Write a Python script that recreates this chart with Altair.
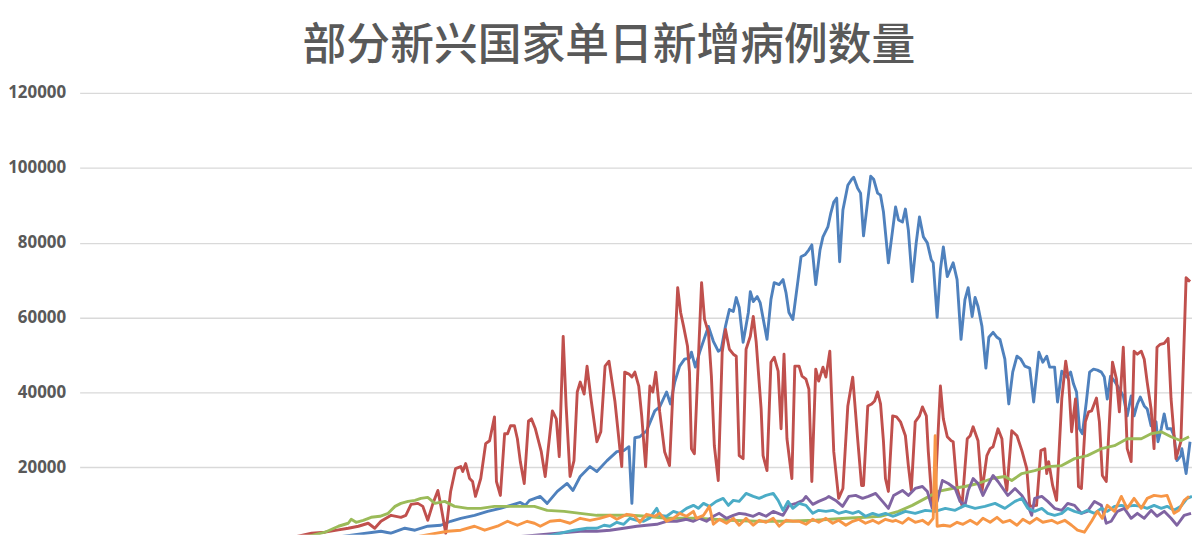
import altair as alt
import pandas as pd

TITLE = "部分新兴国家单日新增病例数量"
Y_TICKS = [20000, 40000, 60000, 80000, 100000, 120000]
SERIES = ["印度", "巴西", "俄罗斯", "阿根廷", "哥伦比亚", "墨西哥"]
COLORS = ["#4F81BD", "#C0504D", "#9BBB59", "#8064A2", "#4BACC6", "#F79646"]

# (day index, new cases)
india = [(60, 200), (80, 1500), (92.1, 2920), (95.2, 2390), (99.4, 3720), (102.5, 3190), (106.4, 4250), (110.4, 4520),
         (113.4, 5580), (116.5, 6370), (120.7, 7170), (124.7, 8230), (128.6, 9030), (131.7, 9830), (134.7, 10620),
         (136.2, 9830), (137.5, 11160), (140.8, 12220), (142.9, 10360), (146.0, 13550), (149.0, 15670), (150.8, 13810),
         (153.0, 17530), (156.0, 20190), (158.1, 18860), (161.2, 21780), (164.2, 24170), (166.3, 24440), (167.9, 25500),
         (168.8, 10360), (169.7, 27890), (171.2, 28150), (173.3, 29750), (175.8, 35060), (177.3, 36120), (179.4, 40110),
         (180.6, 36920), (181.9, 42760), (183.4, 47010), (184.9, 48870), (186.4, 49140), (187.0, 50730), (188.2, 46750),
         (189.5, 50730), (192.2, 57640), (193.7, 53650), (195.2, 51000), (196.1, 51530), (197.4, 57640), (198.6, 62150),
         (199.8, 61620), (200.7, 65340), (201.6, 62680), (202.8, 53390), (204.4, 61350), (205.0, 66930), (205.9, 64280),
         (207.1, 65600), (208.0, 64010), (210.1, 54180), (211.3, 64810), (212.3, 69320), (213.8, 68790), (215.0, 70120),
         (215.9, 66670), (216.8, 61350), (218.0, 59490), (219.6, 70120), (220.5, 76230), (221.7, 76760), (222.9, 78090),
         (223.8, 79410), (225.0, 68790), (226.3, 78090), (227.2, 81540), (228.7, 84200), (229.6, 87910), (230.5, 90840),
         (231.4, 91900), (232.3, 74900), (233.3, 88710), (234.8, 95350), (236.0, 96940), (236.6, 97480), (237.8, 94550),
         (238.7, 93230), (239.6, 81800), (240.9, 91370), (241.8, 97740), (242.7, 96940), (243.9, 93230), (244.8, 92690),
         (245.7, 88180), (247.2, 74630), (248.5, 83400), (249.4, 89510), (250.3, 86050), (251.5, 85520), (252.4, 88980),
         (253.3, 83400), (254.5, 69590), (255.7, 79950), (256.7, 86850), (257.9, 81540), (259.1, 79950), (260.3, 75430),
         (260.9, 74630), (262.1, 60030), (263.1, 72770), (264.0, 78880), (265.2, 70920), (266.1, 72770), (267.0, 74630),
         (268.2, 70120), (269.4, 54180), (270.6, 64810), (271.6, 67990), (272.8, 60290), (273.7, 65340), (274.6, 62950),
         (275.8, 57640), (277.0, 46480), (277.9, 54720), (279.2, 56040), (280.4, 54720), (281.3, 54180), (282.8, 48870),
         (284.0, 36920), (285.2, 45420), (286.5, 49670), (287.7, 48870), (288.9, 47010), (290.4, 46480), (291.6, 37450),
         (293.2, 50730), (294.4, 48070), (295.6, 49670), (296.5, 46750), (298.0, 46750), (298.9, 37450), (300.2, 45680),
         (301.7, 44090), (302.9, 45420), (303.8, 42230), (304.7, 40110), (305.6, 30280), (306.5, 28950), (307.7, 37450),
         (308.7, 45420), (309.9, 46210), (311.1, 45950), (312.3, 45420), (313.2, 44090), (314.1, 38250), (315.1, 44360),
         (316.3, 43030), (317.8, 40900), (319.0, 39040), (320.2, 33730), (321.4, 39040), (322.3, 33730), (323.3, 36920),
         (324.2, 38780), (325.4, 36390), (326.3, 35590), (327.5, 31080), (329.0, 32140), (329.6, 26830), (330.6, 30280),
         (331.5, 34260), (332.4, 30280), (333.6, 30280), (334.5, 28420), (335.4, 21780), (336.6, 23110), (336.9, 24970),
         (338.2, 18330), (339.4, 26830)]

brazil = [(60, 300), (70.9, 2390), (75.0, 2660), (79.1, 3270), (82.1, 3720), (85.2, 4250), (88.2, 5050), (90.2, 3720),
          (92.1, 5580), (95.2, 7170), (98.2, 6640), (99.7, 7170), (101.3, 10090), (103.4, 10360), (104.9, 9560),
          (106.4, 5840), (108.0, 10360), (109.5, 13810), (110.4, 9830), (111.9, 2390), (113.4, 13550), (114.9, 19650),
          (116.5, 20190), (117.1, 18860), (118.0, 20980), (119.2, 17000), (120.1, 16200), (121.0, 12220), (122.6, 17000),
          (124.1, 26300), (125.3, 27090), (126.8, 33470), (127.4, 16200), (128.6, 12480), (129.9, 28950), (130.8, 28950),
          (131.7, 31080), (132.9, 31080), (133.8, 27620), (134.7, 21510), (135.9, 15670), (137.2, 32400), (138.1, 32930),
          (139.3, 30280), (141.1, 24170), (142.3, 17530), (144.5, 35060), (145.7, 32930), (146.6, 22840), (147.8, 54980),
          (148.7, 36390), (149.9, 17530), (151.1, 21780), (152.1, 40110), (153.0, 42760), (154.2, 39570), (155.1, 47010),
          (156.3, 38250), (158.1, 26830), (159.3, 29480), (160.6, 47010), (161.8, 48340), (162.7, 43030), (163.6, 37720),
          (165.7, 20190), (166.6, 45420), (167.9, 44890), (168.8, 44090), (169.7, 45420), (170.9, 41700), (171.8, 33730),
          (173.0, 20190), (174.3, 41700), (175.2, 40110), (176.1, 45420), (177.3, 34790), (178.8, 24170), (180.3, 20450),
          (182.8, 67990), (183.7, 61350), (184.6, 57640), (185.8, 52320), (186.4, 45420), (187.0, 24970), (187.9, 23640),
          (190.1, 69320), (191.0, 59490), (192.2, 56040), (193.1, 44360), (194.0, 25760), (195.2, 16470), (196.4, 50730),
          (197.4, 56840), (198.6, 51530), (199.8, 50200), (200.7, 49670), (201.6, 23110), (202.8, 22310), (203.7, 51530),
          (205.0, 54980), (205.9, 60290), (206.8, 53390), (208.3, 35590), (208.9, 23110), (210.1, 19120), (211.3, 48070),
          (212.3, 49400), (213.5, 45680), (214.4, 30280), (215.3, 50200), (216.2, 27620), (217.7, 17000), (218.6, 47010),
          (219.9, 47010), (220.8, 44360), (222.0, 43560), (222.9, 40900), (223.8, 16200), (225.0, 46210), (225.9, 43030),
          (227.2, 46750), (228.1, 44090), (229.3, 51000), (230.5, 24170), (232.0, 11690), (233.3, 14340), (234.8, 36390),
          (236.3, 44090), (237.8, 27620), (239.0, 15140), (239.6, 15140), (240.9, 36390), (242.1, 36920), (243.0, 37720),
          (243.9, 40110), (244.8, 36920), (245.7, 26830), (246.3, 17000), (247.2, 13550), (248.5, 33730), (249.7, 33470),
          (250.9, 32140), (252.4, 28420), (253.3, 20450), (254.2, 13810), (255.4, 32140), (256.7, 33730), (257.6, 36120),
          (258.8, 33730), (259.4, 24170), (260.6, 9830), (261.2, 8230), (263.1, 41700), (264.0, 32930), (265.2, 28150),
          (266.4, 27090), (267.0, 26830), (268.2, 14340), (269.7, 9830), (271.3, 27620), (272.2, 28420), (273.1, 30810),
          (274.6, 27090), (275.8, 13550), (277.3, 23110), (278.3, 24970), (279.2, 25500), (280.7, 30280), (281.9, 27620),
          (282.8, 17000), (283.4, 13810), (284.9, 29750), (286.5, 28420), (288.0, 24440), (289.5, 19650), (290.4, 9560),
          (292.5, 9830), (293.8, 24440), (295.0, 24970), (295.6, 18330), (296.2, 21510), (297.4, 15140), (298.6, 11160),
          (300.2, 38250), (301.4, 48340), (302.3, 43030), (303.2, 29480), (304.4, 38250), (305.3, 14870), (306.2, 14340),
          (307.4, 32140), (308.4, 34790), (309.3, 35060), (310.8, 38510), (311.7, 32140), (312.6, 17800), (313.8, 16200),
          (315.7, 48070), (316.9, 43560), (317.8, 34790), (319.0, 52060), (320.2, 24970), (321.4, 21510), (322.3, 51000),
          (323.3, 50200), (324.5, 51000), (325.4, 48870), (326.3, 42760), (327.5, 35590), (328.4, 24970), (329.3, 52060),
          (330.3, 52850), (331.5, 53120), (332.7, 54450), (333.6, 38250), (335.1, 22310), (336.6, 26830), (338.2, 70650),
          (339.4, 69590)]

russia = [(65, 500), (75.0, 2660), (79.1, 4250), (82.1, 5050), (83.0, 6110), (84.5, 5310), (86.7, 5840), (89.1, 6640),
          (91.8, 6910), (94.3, 7700), (96.4, 9560), (98.2, 10360), (100.4, 10890), (102.5, 11160), (104.3, 11690),
          (106.4, 11950), (108.6, 10360), (111.6, 10890), (114.6, 9560), (118.6, 9030), (122.6, 9030), (126.8, 9560),
          (130.8, 9560), (134.7, 9560), (139.0, 9560), (142.9, 8500), (148.1, 8230), (153.0, 7700), (158.1, 7170),
          (163.3, 7170), (168.2, 7170), (173.3, 6910), (179.4, 6370), (188.5, 6370), (198.6, 5840), (206.8, 5580),
          (215.9, 5580), (225.0, 5840), (234.2, 6370), (240.2, 6640), (244.8, 6910), (250.3, 8230), (254.5, 9830),
          (258.5, 11690), (262.4, 13550), (266.7, 14340), (270.6, 14870), (274.6, 15670), (278.9, 17000), (282.8, 17530),
          (284.9, 16470), (288.0, 18330), (291.9, 19120), (295.9, 20190), (300.2, 20450), (304.1, 22310), (308.0, 23110),
          (312.3, 24970), (316.3, 25760), (320.2, 27620), (324.5, 27620), (327.5, 28950), (330.6, 29480), (333.6, 28150),
          (336.6, 27090), (339.1, 28150)]

argentina = [(121.6, 500), (153.0, 2920), (158.1, 2920), (162.1, 3190), (166.3, 3720), (170.3, 4250), (173.3, 4520),
             (176.4, 4780), (179.4, 5580), (182.5, 5580), (185.5, 6110), (187.6, 5580), (189.5, 6370), (191.6, 5580),
             (193.7, 6910), (195.5, 7700), (197.7, 6370), (199.8, 7170), (201.6, 7700), (203.7, 7440), (205.9, 6910),
             (207.7, 7700), (209.8, 6910), (212.0, 8230), (213.5, 7700), (215.0, 7170), (216.8, 9830), (219.0, 10360),
             (221.1, 11160), (222.0, 12220), (224.1, 10090), (225.9, 10890), (228.1, 11690), (229.0, 12220),
             (231.1, 11160), (233.2, 9560), (235.1, 12220), (237.2, 12480), (239.3, 11690), (241.1, 12220),
             (243.3, 13010), (245.4, 10890), (247.2, 9030), (248.8, 12480), (251.5, 13810), (253.3, 12480),
             (255.4, 14340), (257.6, 14870), (259.1, 13550), (260.6, 9030), (262.1, 10890), (263.7, 16470),
             (265.5, 15670), (267.6, 14340), (269.1, 10890), (270.6, 9830), (271.6, 13810), (273.1, 17000),
             (274.6, 15670), (276.1, 12480), (277.6, 15140), (279.2, 17800), (280.7, 16200), (282.2, 14340),
             (283.7, 12480), (285.9, 14340), (288.0, 12480), (289.8, 9830), (291.0, 7170), (291.9, 11690),
             (294.1, 12220), (295.9, 10890), (298.0, 9030), (300.2, 8500), (302.0, 10360), (304.1, 9830), (306.2, 7700),
             (308.0, 8230), (310.2, 10890), (312.3, 9830), (313.8, 5050), (315.3, 5580), (317.2, 8230), (319.3, 9030),
             (321.4, 6370), (323.3, 7700), (325.4, 6370), (327.5, 8500), (329.3, 6910), (331.5, 8230), (333.6, 6370),
             (335.4, 4520), (337.6, 7170), (339.7, 7700)]

colombia = [(139.9, 1000), (151.1, 3190), (155.1, 3720), (158.1, 3720), (160.3, 4520), (162.1, 4250), (164.2, 5310),
            (166.3, 4780), (168.2, 6370), (170.3, 5840), (172.4, 5580), (174.2, 6370), (176.4, 9030), (177.3, 7170),
            (179.4, 6910), (181.5, 8230), (183.4, 7700), (185.5, 9030), (187.6, 9830), (189.1, 9030), (190.7, 10360),
            (192.5, 9560), (194.6, 10890), (196.7, 11690), (198.3, 9830), (199.8, 11160), (201.6, 10890),
            (203.7, 13010), (205.9, 12220), (207.7, 11690), (209.8, 12480), (212.0, 13010), (213.5, 11160),
            (215.0, 8500), (216.5, 10890), (218.0, 9030), (219.9, 10360), (222.0, 9830), (224.1, 7700), (225.9, 8500),
            (228.1, 8230), (230.2, 8500), (232.0, 7700), (234.2, 8230), (236.3, 7700), (238.1, 8230), (240.2, 6910),
            (242.4, 7700), (244.2, 7170), (246.3, 7700), (248.5, 6910), (249.4, 7170), (252.4, 8230), (255.4, 7700),
            (258.5, 8500), (261.5, 8230), (264.6, 9030), (267.6, 8500), (270.6, 9830), (273.7, 9030), (276.7, 9560),
            (279.8, 10360), (282.8, 9030), (285.9, 10890), (288.0, 11690), (289.8, 9030), (291.9, 8230), (294.1, 9030),
            (295.9, 7700), (298.0, 7170), (300.2, 7700), (302.0, 9030), (304.1, 8230), (306.2, 7700), (308.0, 8500),
            (310.2, 7700), (312.3, 9030), (314.1, 8230), (316.3, 9560), (318.4, 9830), (320.2, 9560), (322.3, 9830),
            (324.5, 9560), (326.3, 9030), (328.4, 9830), (330.6, 9030), (332.4, 9560), (334.5, 8500), (336.6, 9560),
            (338.5, 11690), (340.0, 12220)]

mexico = [(103.4, 1500), (112.5, 2920), (116.5, 3190), (120.7, 4250), (123.8, 3190), (127.7, 4250), (130.8, 5580),
          (133.8, 4520), (136.8, 5580), (139.0, 5050), (140.8, 4250), (143.8, 5580), (146.9, 5840), (149.9, 5050),
          (153.0, 6370), (156.0, 5840), (159.0, 6370), (162.1, 7170), (164.2, 6110), (167.3, 7440), (169.4, 7170),
          (171.2, 5310), (173.3, 7440), (175.8, 6910), (177.3, 7700), (179.4, 5580), (181.5, 6370), (183.4, 7700),
          (185.5, 6910), (187.6, 8230), (188.5, 6370), (190.7, 7170), (192.5, 9560), (193.7, 4780), (195.5, 6110),
          (197.7, 5050), (199.8, 6370), (201.6, 4520), (203.7, 6370), (205.9, 4520), (207.7, 5840), (209.8, 5310),
          (212.0, 6370), (213.8, 4250), (215.9, 5840), (218.0, 5580), (219.9, 5580), (222.0, 4780), (224.1, 6110),
          (225.9, 5310), (228.1, 6370), (230.2, 5050), (232.0, 5840), (234.2, 4520), (236.3, 5580), (238.1, 6110),
          (240.2, 5050), (242.4, 5840), (244.2, 5050), (246.3, 6110), (248.5, 5580), (249.4, 5840), (251.5, 5050),
          (253.3, 6370), (255.4, 5310), (257.6, 5840), (259.4, 4780), (260.9, 6370), (261.5, 28420), (262.1, 4250),
          (264.0, 4520), (266.1, 4250), (268.2, 5310), (270.0, 4780), (272.2, 5840), (274.3, 4780), (276.1, 6370),
          (278.3, 5310), (280.4, 6640), (282.2, 5310), (284.3, 5840), (286.5, 4520), (288.3, 6110), (290.4, 5050),
          (292.5, 6370), (294.4, 5310), (297.1, 5840), (298.9, 5050), (301.1, 5840), (303.2, 4520), (305.0, 3190),
          (307.1, 2660), (309.3, 5580), (311.1, 8230), (312.6, 6370), (314.1, 9830), (316.3, 8230), (318.4, 12220),
          (320.2, 9030), (322.3, 11690), (324.5, 9030), (326.3, 11690), (328.4, 12480), (330.6, 12220),
          (332.4, 12480), (334.5, 7700), (336.0, 8500), (337.6, 11160), (339.1, 12220)]

ALL = [india, brazil, russia, argentina, colombia, mexico]

x_scale = alt.Scale(domain=[0, 340], nice=False, zero=False)
y_scale = alt.Scale(domain=[2000, 120000], nice=False, zero=False)
y_axis = alt.Axis(values=Y_TICKS, title=None, ticks=False, domain=False, grid=True,
                  gridColor="#D9D9D9", gridWidth=1.3, labelFont="Open Sans", labelFontSize=17,
                  labelFontWeight="bold", labelColor="#595959", labelPadding=14, format="d")

layers = []
for name, pts, color in zip(SERIES, ALL, COLORS):
    df = pd.DataFrame(pts, columns=["day", "cases"])
    df["series"] = name
    layers.append(
        alt.Chart(df).mark_line(color=color, strokeWidth=2.9, clip=True, strokeJoin="round").encode(
            x=alt.X("day:Q", scale=x_scale, axis=None),
            y=alt.Y("cases:Q", scale=y_scale, axis=y_axis),
            order="day:Q",
        )
    )

title_layer = alt.Chart(pd.DataFrame({"t": [TITLE]})).mark_text(
    font="Noto Sans CJK SC", fontSize=44, fontWeight=500, color="#595959", align="center", baseline="middle"
).encode(x=alt.value(532), y=alt.value(-46), text="t:N")

chart = alt.layer(*layers, title_layer).properties(
    width=1118, height=444,
    autosize=alt.AutoSizeParams(type="none"),
    padding={"left": 72, "top": 84, "right": 0, "bottom": 0},
    background="white",
).configure_view(strokeWidth=0)

chart.save("out.html", embed_options={"renderer": "svg", "actions": False})
